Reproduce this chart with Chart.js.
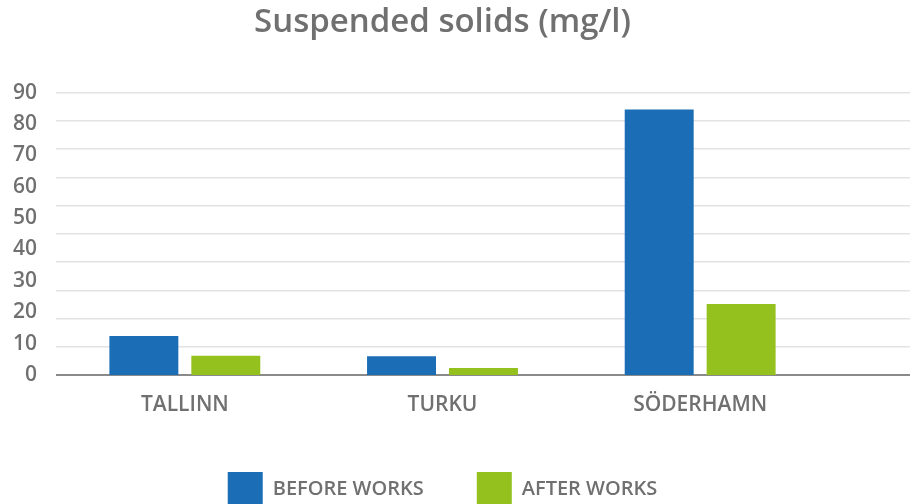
<!DOCTYPE html>
<html><head><meta charset="utf-8">
<script src="https://cdn.jsdelivr.net/npm/chart.js@4"></script>
<style>html,body{margin:0;padding:0;background:#fff;}</style>
</head><body>
<canvas id="c" width="917" height="504"></canvas>
<script>
const categories = ['TALLINN', 'TURKU', 'SÖDERHAMN'];
const seriesNames = ['BEFORE WORKS', 'AFTER WORKS'];
const beforeWorks = [12.4, 6.0, 84.6];
const afterWorks = [6.1, 2.2, 22.6];
const yLabelMax = 90;
const yStep = 10;
const gridMax = 100;

const BLUE = '#1b6db5';
const GREEN = '#95c11f';
const TEXT = '#707070';
const FAMILY = "'Open Sans', 'Noto Sans', sans-serif";

new Chart(document.getElementById('c'), {
  type: 'bar',
  data: {
    labels: categories,
    datasets: [
      { label: seriesNames[0], data: beforeWorks, backgroundColor: BLUE, yAxisID: 'y' },
      { label: seriesNames[1], data: afterWorks, backgroundColor: GREEN, yAxisID: 'y' }
    ]
  },
  options: {
    responsive: false,
    animation: false,
    layout: { padding: { left: 0, right: 7, top: 0, bottom: -13 } },
    datasets: { bar: { categoryPercentage: 0.636, barPercentage: 0.8415 } },
    plugins: {
      title: {
        display: true, text: 'Suspended solids (mg/l)', fullSize: false,
        color: TEXT, font: { family: FAMILY, size: 33, weight: '600' },
        padding: { top: 3, bottom: 50 }
      },
      legend: {
        position: 'bottom', fullSize: false,
        labels: { boxWidth: 35, boxHeight: 35, padding: 53, color: TEXT,
          font: { family: FAMILY, size: 20, weight: '600' } }
      },
      tooltip: { enabled: false }
    },
    scales: {
      x: {
        type: 'category', offset: true,
        grid: { display: false, drawTicks: false },
        border: { display: false },
        ticks: { color: TEXT, font: { family: FAMILY, size: 21, weight: '600' }, padding: 17, maxRotation: 0, autoSkip: false },
        afterFit: s => { s.height = 44; }
      },
      y: {
        position: 'left', min: 0, max: yLabelMax,
        ticks: { stepSize: yStep, color: TEXT, font: { family: FAMILY, size: 21, weight: '600' }, padding: 19 },
        grid: { display: false, drawTicks: false },
        border: { display: false },
        afterFit: s => { s.width = 56; }
      },
      y2: {
        position: 'right', min: 0, max: gridMax,
        ticks: { display: false, stepSize: yStep },
        grid: {
          display: true, drawOnChartArea: true, drawTicks: true, tickLength: 81,
          color: c => (c.tick && c.tick.value === 0) ? '#8a8a8a' : '#e3e3e3',
          lineWidth: c => (c.tick && c.tick.value === 0) ? 2 : 1.5
        },
        border: { display: false },
        afterFit: s => { s.width = 81; }
      }
    }
  }
});
</script>
</body></html>
